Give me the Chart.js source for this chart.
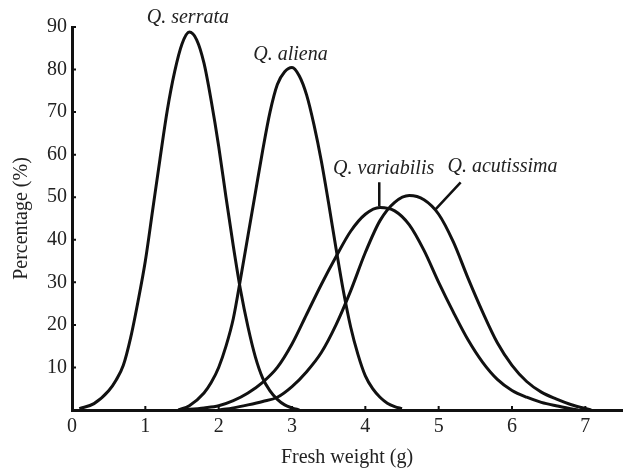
<!DOCTYPE html>
<html>
<head>
<meta charset="utf-8">
<script src="https://cdn.jsdelivr.net/npm/chart.js@4"></script>
<style>
  body { margin: 0; background: #fff; }
  #wrap { width: 624px; height: 468px; position: relative; }
</style>
</head>
<body>
<div id="wrap"><canvas id="chart"></canvas></div>
<script>
// Curve points (fresh weight in g, percentage).
const serrataX = [0.1, 0.3, 0.5, 0.6, 0.7, 0.8, 0.9, 1.0, 1.1, 1.2, 1.3, 1.4, 1.5, 1.6, 1.7, 1.8, 1.9, 2.0, 2.1, 2.2, 2.3, 2.4, 2.5, 2.6, 2.7, 2.8, 2.9, 3.0, 3.1];
const serrataY = [0.3, 1.5, 4.5, 7, 10.5, 17, 25.5, 35, 47, 59, 70.5, 79.5, 86, 88.8, 87, 81.5, 72.5, 62, 50, 38.5, 28, 19.5, 12.5, 7.5, 4.5, 2.5, 1.2, 0.5, 0];

const alienaX = [1.45, 1.6, 1.8, 1.9, 2.0, 2.1, 2.2, 2.3, 2.4, 2.5, 2.6, 2.7, 2.8, 2.9, 3.0, 3.1, 3.2, 3.3, 3.4, 3.5, 3.6, 3.7, 3.8, 3.9, 4.0, 4.1, 4.2, 4.3, 4.4, 4.5];
const alienaY = [0, 1, 4, 6.5, 10, 15, 21.5, 31, 41, 51, 61, 70, 76.5, 79.5, 80.5, 78.5, 74, 67, 58.5, 48.5, 38, 28, 19.5, 13, 8, 5, 3, 1.6, 0.8, 0.3];

const variabilisX = [1.5, 1.8, 2.0, 2.2, 2.4, 2.6, 2.8, 3.0, 3.2, 3.4, 3.6, 3.8, 4.0, 4.2, 4.4, 4.6, 4.8, 5.0, 5.2, 5.4, 5.6, 5.8, 6.0, 6.2, 6.4, 6.6, 6.9];
const variabilisY = [0, 0.5, 1, 2.2, 4, 6.5, 10, 15.5, 22.5, 29.5, 36, 42, 46, 47.6, 46.8, 43.5, 37.5, 30, 23, 16.5, 11.2, 7.2, 4.6, 3, 1.8, 1, 0];

const acutissimaX = [2.0, 2.2, 2.4, 2.6, 2.8, 3.0, 3.2, 3.4, 3.6, 3.8, 4.0, 4.2, 4.4, 4.6, 4.8, 5.0, 5.2, 5.4, 5.6, 5.8, 6.0, 6.2, 6.4, 6.6, 6.8, 7.08];
const acutissimaY = [0, 0.5, 1.2, 2, 3, 5.5, 9, 13.5, 20, 28, 37, 44.5, 48.8, 50.4, 49.4, 46, 39.5, 31, 23, 15.8, 10.5, 6.7, 4.2, 2.6, 1.3, 0];

const xTicks = [0, 1, 2, 3, 4, 5, 6, 7];

// Species labels and where they sit (data units).
const speciesNames = ['Q. serrata', 'Q. aliena', 'Q. variabilis', 'Q. acutissima'];
const labelX = [1.58, 2.98, 4.25, 5.87];
const labelY = [92.2, 83.4, 56.6, 57.1];

const black = '#111';
const serif = '"Liberation Serif", "DejaVu Serif", serif';

function toPoints(xs, ys) {
  return xs.map((x, i) => ({ x: x, y: ys[i] }));
}

function curve(xs, ys) {
  return {
    data: toPoints(xs, ys),
    showLine: true,
    borderColor: black,
    borderWidth: 3,
    pointRadius: 0,
    cubicInterpolationMode: 'monotone',
    fill: false
  };
}

// Small inward tick marks on both axes.
const innerTicks = {
  id: 'innerTicks',
  afterDraw(chart) {
    const ctx = chart.ctx;
    const xs = chart.scales.x, ys = chart.scales.y;
    ctx.save();
    ctx.strokeStyle = black;
    ctx.lineWidth = 2;
    ctx.beginPath();
    ys.ticks.forEach(t => {
      if (t.value <= 0) return;
      const py = ys.getPixelForValue(t.value);
      ctx.moveTo(xs.left, py);
      ctx.lineTo(xs.left + 4, py);
    });
    xs.ticks.forEach(t => {
      if (t.value <= 0) return;
      const px = xs.getPixelForValue(t.value);
      ctx.moveTo(px, ys.bottom);
      ctx.lineTo(px, ys.bottom - 4);
    });
    ctx.stroke();
    ctx.restore();
  }
};

// Species names and leader lines.
const speciesLabels = {
  id: 'speciesLabels',
  afterDatasetsDraw(chart) {
    const ctx = chart.ctx;
    const xs = chart.scales.x, ys = chart.scales.y;
    ctx.save();
    ctx.fillStyle = '#222';
    ctx.font = 'italic 20px ' + serif;
    ctx.textAlign = 'center';
    ctx.textBaseline = 'middle';
    speciesNames.forEach((name, i) => {
      ctx.fillText(name, xs.getPixelForValue(labelX[i]), ys.getPixelForValue(labelY[i]));
    });
    ctx.strokeStyle = black;
    ctx.lineWidth = 2.5;
    ctx.beginPath();
    ctx.moveTo(xs.getPixelForValue(4.19), ys.getPixelForValue(53.5));
    ctx.lineTo(xs.getPixelForValue(4.19), ys.getPixelForValue(47.9));
    ctx.moveTo(xs.getPixelForValue(5.3), ys.getPixelForValue(53.5));
    ctx.lineTo(xs.getPixelForValue(4.96), ys.getPixelForValue(47.2));
    ctx.stroke();
    ctx.restore();
  }
};

const chart = new Chart('chart', {
  type: 'scatter',
  data: {
    datasets: [
      curve(serrataX, serrataY),
      curve(alienaX, alienaY),
      curve(variabilisX, variabilisY),
      curve(acutissimaX, acutissimaY)
    ]
  },
  options: {
    responsive: true,
    maintainAspectRatio: false,
    animation: false,
    layout: { padding: { left: 0, right: 2, top: 27, bottom: 0 } },
    plugins: {
      legend: { display: false },
      tooltip: { enabled: false }
    },
    scales: {
      x: {
        type: 'linear',
        min: 0,
        max: 7.5,
        afterFit: s => { s.height = 58; },
        afterBuildTicks: s => { s.ticks = xTicks.map(v => ({ value: v })); },
        border: { display: true, color: black, width: 3 },
        grid: { display: false, drawTicks: false },
        ticks: {
          autoSkip: false,
          maxRotation: 0,
          padding: 5,
          color: '#222',
          font: { family: serif, size: 20 }
        },
        title: {
          display: true,
          text: 'Fresh weight (g)',
          color: '#222',
          font: { family: serif, size: 20, lineHeight: 1 },
          padding: { top: 0, bottom: 0 }
        }
      },
      y: {
        min: 0,
        max: 90,
        afterFit: s => { s.width = 72; },
        border: { display: true, color: black, width: 3 },
        grid: { display: false, drawTicks: false },
        ticks: {
          stepSize: 10,
          padding: 5,
          color: '#222',
          font: { family: serif, size: 20 },
          callback: v => (v === 0 ? '' : v)
        },
        title: {
          display: true,
          text: 'Percentage (%)',
          color: '#222',
          font: { family: serif, size: 20 },
          padding: { top: 10, bottom: 0 }
        }
      }
    }
  },
  plugins: [innerTicks, speciesLabels]
});
</script>
</body>
</html>
